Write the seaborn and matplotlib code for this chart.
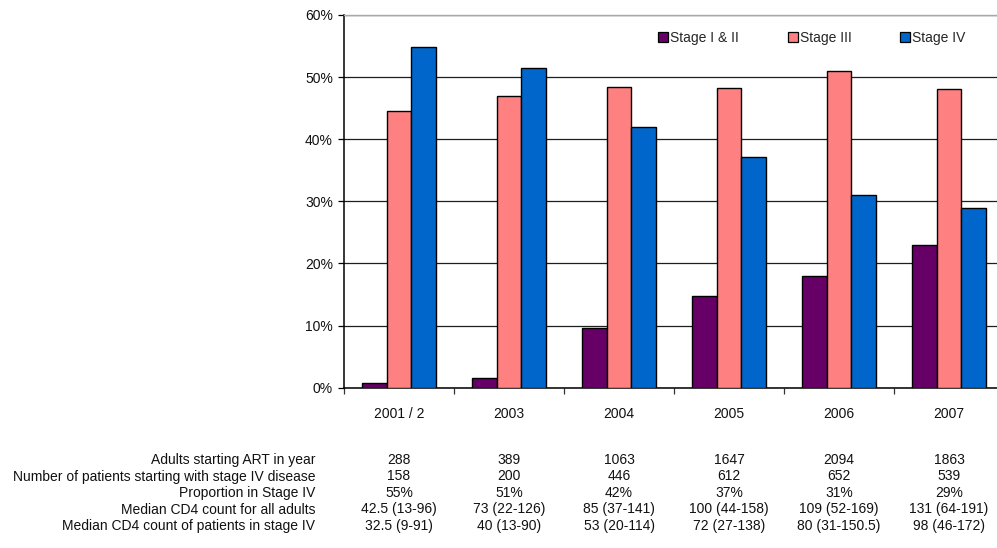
import matplotlib
matplotlib.use("Agg")
import matplotlib.pyplot as plt
from matplotlib.patches import Patch
from matplotlib.ticker import FuncFormatter, FixedLocator
from matplotlib.transforms import blended_transform_factory
import seaborn as sns
import pandas as pd

# ---- data -------------------------------------------------------------
years = ["2001 / 2", "2003", "2004", "2005", "2006", "2007"]
stages = ["Stage I & II", "Stage III", "Stage IV"]
stage_1_2 = [0.7, 1.5, 9.6, 14.7, 18.0, 23.0]
stage_3 = [44.5, 47.0, 48.4, 48.2, 51.0, 48.1]
stage_4 = [54.9, 51.4, 42.0, 37.2, 31.1, 28.9]

stage_colors = ["#660066", "#FF8080", "#0066CC"]

row_labels = [
    "Adults starting ART in year",
    "Number of patients starting with stage IV disease",
    "Proportion in Stage IV",
    "Median CD4 count for all adults",
    "Median CD4 count of patients in stage IV",
]
adults_starting = ["288", "389", "1063", "1647", "2094", "1863"]
stage4_patients = ["158", "200", "446", "612", "652", "539"]
proportion_stage4 = ["55%", "51%", "42%", "37%", "31%", "29%"]
cd4_all = ["42.5 (13-96)", "73 (22-126)", "85 (37-141)", "100 (44-158)",
           "109 (52-169)", "131 (64-191)"]
cd4_stage4 = ["32.5 (9-91)", "40 (13-90)", "53 (20-114)", "72 (27-138)",
              "80 (31-150.5)", "98 (46-172)"]

# ---- long-form table for seaborn --------------------------------------
df = pd.DataFrame({
    "year": years * 3,
    "stage": [stages[0]] * 6 + [stages[1]] * 6 + [stages[2]] * 6,
    "pct": stage_1_2 + stage_3 + stage_4,
})

sns.set_theme(style="white")
plt.rcParams["font.family"] = ["Liberation Sans", "DejaVu Sans"]
plt.rcParams["font.size"] = 10

W, H = 997, 548
fig = plt.figure(figsize=(W / 100, H / 100), dpi=100)
fig.patch.set_facecolor("white")

# plot area (pixel geometry converted to figure fractions)
left_px, right_px, top_px, bottom_px = 344, 1004, 15, 387.7
ax = fig.add_axes([left_px / W, 1 - bottom_px / H,
                   (right_px - left_px) / W, (bottom_px - top_px) / H])

sns.barplot(data=df, x="year", y="pct", hue="stage", order=years,
            hue_order=stages, palette=stage_colors, width=0.668, gap=0,
            edgecolor="black", linewidth=1.0, saturation=1, ax=ax,
            legend=False, zorder=3)

ax.set_xlim(-0.5, len(years) - 0.5)
ax.set_ylim(0, 60)
ax.set_xlabel("")
ax.set_ylabel("")

# y axis: percent ticks with gridlines
ax.yaxis.set_major_locator(FixedLocator([0, 10, 20, 30, 40, 50, 60]))
ax.yaxis.set_major_formatter(FuncFormatter(lambda v, _: f"{int(v)}%"))
ax.yaxis.grid(True, color="#1e1e1e", linewidth=0.9, zorder=0)
ax.set_axisbelow(True)
ax.tick_params(axis="y", which="major", direction="out", length=4,
               width=0.9, color="black", pad=4, labelsize=10,
               labelcolor="#111111", left=True)

# x axis: labels centred on groups, tick marks at group boundaries
ax.tick_params(axis="x", which="major", length=0, pad=14, labelsize=10,
               labelcolor="#111111")
ax.xaxis.set_minor_locator(FixedLocator([i - 0.5 for i in range(len(years) + 1)]))
ax.tick_params(axis="x", which="minor", direction="out", length=4,
               width=0.9, color="#333333", bottom=True)

for side in ["left", "bottom"]:
    ax.spines[side].set_color("black")
    ax.spines[side].set_linewidth(1.1)
ax.spines["top"].set_color("#a8a8a8")
ax.spines["top"].set_linewidth(1.0)
ax.spines["right"].set_visible(False)

# legend in one row along the top
handles = [Patch(facecolor=c, edgecolor="black", linewidth=0.9)
           for c in stage_colors]
fig.legend(handles, stages, loc="center left", ncol=3, frameon=False,
           bbox_to_anchor=(658 / W, 1 - 38 / H), borderpad=0,
           borderaxespad=0, handlelength=0.72, handleheight=0.72,
           handletextpad=0.15, columnspacing=3.5, fontsize=10)

# summary table below the chart
rows = [adults_starting, stage4_patients, proportion_stage4, cd4_all,
        cd4_stage4]
row_y_px = [460, 476.5, 493, 509.5, 526]
trans = blended_transform_factory(ax.transData, fig.transFigure)
for label, values, ypx in zip(row_labels, rows, row_y_px):
    yf = 1 - ypx / H
    fig.text(315 / W, yf, label, ha="right", va="center", fontsize=10,
             color="#111111")
    for i, v in enumerate(values):
        ax.text(i, yf, v, transform=trans, ha="center", va="center",
                fontsize=10, color="#111111", clip_on=False)

fig.savefig("out.png", dpi=100)
